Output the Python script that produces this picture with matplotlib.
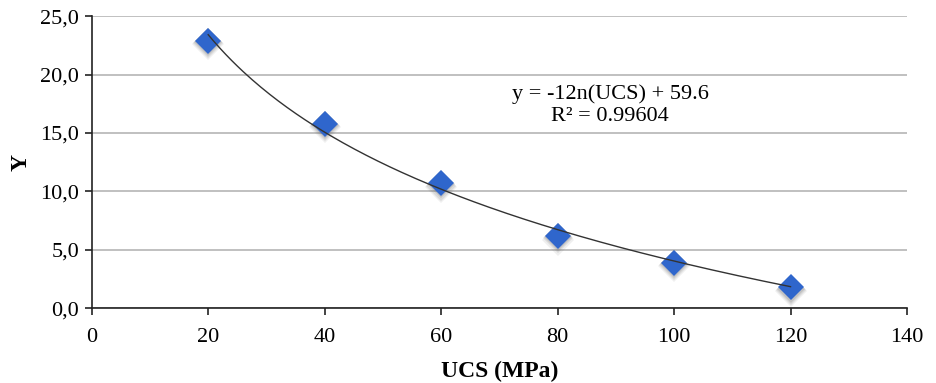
"""Y versus UCS with logarithmic trend line."""

import matplotlib

matplotlib.use("Agg")
import matplotlib.pyplot as plt
import numpy as np

ucs = [20, 40, 60, 80, 100, 120]
y_values = [22.9, 15.8, 10.7, 6.2, 3.9, 1.8]
y_ticks = [0, 5, 10, 15, 20, 25]
x_ticks = [0, 20, 40, 60, 80, 100, 120, 140]
equation_text = "y = -12n(UCS) + 59.6\nR² = 0.99604"


def main():
    plt.rcParams["font.family"] = ["Liberation Serif", "DejaVu Serif"]
    fig, ax = plt.subplots(figsize=(9.36, 3.83), dpi=100)
    fig.subplots_adjust(left=0.098, right=0.969, top=0.958, bottom=0.195)

    # logarithmic trend line fitted to the points
    slope, intercept = np.polyfit(np.log(ucs), y_values, 1)
    xs = np.linspace(min(ucs), max(ucs), 200)
    ax.plot(xs, slope * np.log(xs) + intercept, color="#333333", lw=1.0, zorder=4)

    # soft shadow under each marker
    for off, alpha in [(0.9, 0.10), (0.6, 0.15), (0.3, 0.2)]:
        ax.plot(ucs, np.array(y_values) - off * 0.35, "D", color="#666666",
                markersize=14 + off * 2, alpha=alpha, markeredgewidth=0, zorder=2)
    ax.plot(ucs, y_values, "D", color="#2F66CC", markersize=13,
            markeredgewidth=0, zorder=3)

    ax.set_xlim(0, 140)
    ax.set_ylim(0, 25)
    ax.set_xticks(x_ticks)
    ax.set_yticks(y_ticks)
    ax.set_yticklabels([f"{t:.1f}".replace(".", ",") for t in y_ticks])
    ax.tick_params(labelsize=16, direction="out", length=5, width=1.2, color="#222222")
    ax.tick_params(axis="x", pad=9)
    ax.tick_params(axis="y", pad=4)
    ax.yaxis.grid(True, color="#b5b5b5", lw=1.2)
    ax.set_axisbelow(True)
    for side in ("top", "right"):
        ax.spines[side].set_visible(False)
    for side in ("left", "bottom"):
        ax.spines[side].set_linewidth(1.2)
        ax.spines[side].set_color("#222222")

    ax.set_xlabel("UCS (MPa)", fontsize=17, fontweight="bold", labelpad=10)
    ax.set_ylabel("Y", fontsize=17, fontweight="bold", labelpad=6)

    ax.text(89, 17.4, equation_text, fontsize=16, ha="center", va="center",
            linespacing=1.2)

    fig.savefig("out.png")


if __name__ == "__main__":
    main()
